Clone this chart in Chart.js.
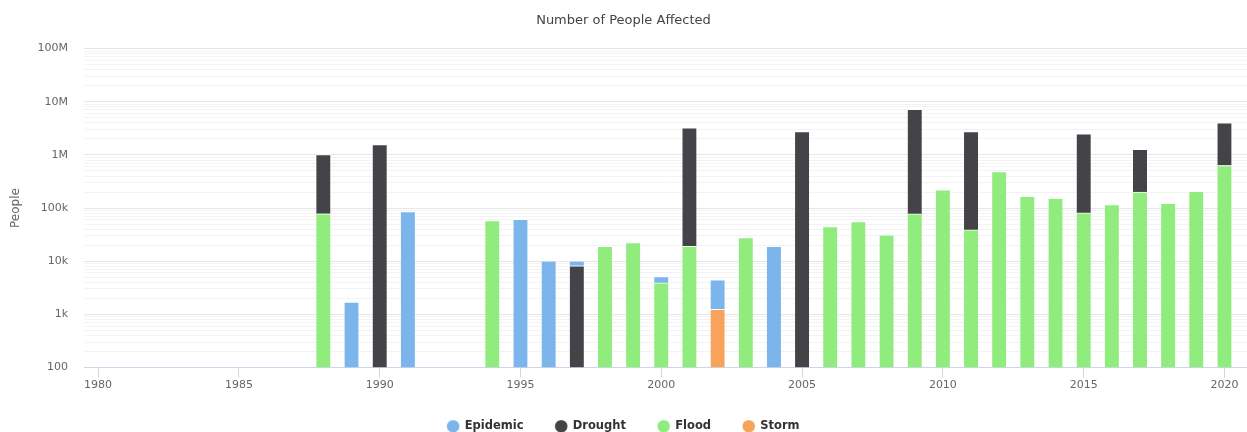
<!DOCTYPE html>
<html>
<head>
<meta charset="utf-8">
<title>Number of People Affected</title>
<script src="https://cdn.jsdelivr.net/npm/chart.js@4/dist/chart.umd.min.js"></script>
<style>
  html, body { margin: 0; padding: 0; background: #ffffff; }
  #wrap { width: 1247px; height: 432px; }
</style>
</head>
<body>
<div id="wrap"><canvas id="chart" width="1247" height="432"></canvas></div>
<script>
// Years shown on the x axis (one slot per year)
const years = [
  1980, 1981, 1982, 1983, 1984, 1985, 1986, 1987, 1988, 1989,
  1990, 1991, 1992, 1993, 1994, 1995, 1996, 1997, 1998, 1999,
  2000, 2001, 2002, 2003, 2004, 2005, 2006, 2007, 2008, 2009,
  2010, 2011, 2012, 2013, 2014, 2015, 2016, 2017, 2018, 2019,
  2020
];

// People affected per year, by disaster type (null = no event)
const epidemic = [
  null, null, null, null, null, null, null, null, null, 1700,
  null, 86000, null, null, null, 61500, 10200, 2000, null, null,
  1250, null, 3200, null, 19000, null, null, null, null, null,
  null, null, null, null, null, null, null, null, null, null,
  null
];
const drought = [
  null, null, null, null, null, null, null, null, 940000, null,
  1570000, null, null, null, null, null, null, 8200, null, null,
  null, 3220000, null, null, null, 2760000, null, null, null, 7100000,
  null, 2720000, null, null, null, 2420000, null, 1070000, null, null,
  3400000
];
const flood = [
  null, null, null, null, null, null, null, null, 78000, null,
  null, null, null, null, 58000, null, null, null, 19000, 22400,
  3900, 19000, null, 27800, null, null, 44800, 55600, 31300, 77600,
  220000, 38800, 488000, 167000, 153000, 81000, 116000, 199000, 123000, 207000,
  632000
];
const storm = [
  null, null, null, null, null, null, null, null, null, null,
  null, null, null, null, null, null, null, null, null, null,
  null, null, 1240, null, null, null, null, null, null, null,
  null, null, null, null, null, null, null, null, null, null,
  null
];

// Axis ticks
const xTickYears = [1980, 1985, 1990, 1995, 2000, 2005, 2010, 2015, 2020];
const yTickValues = [100, 1000, 10000, 100000, 1000000, 10000000, 100000000];
const yTickLabels = ['100', '1k', '10k', '100k', '1M', '10M', '100M'];

function points(values) {
  const out = [];
  values.forEach((v, i) => { if (v !== null) out.push({ x: years[i], y: v }); });
  return out;
}

// Decade lines plus the 2..9 lines between them
function logGridValues() {
  const vals = [];
  for (let d = 0; d < yTickValues.length - 1; d++) {
    for (let m = 1; m <= 9; m++) vals.push(m * yTickValues[d]);
  }
  vals.push(yTickValues[yTickValues.length - 1]);
  return vals;
}

const barStyle = {
  barThickness: 14,
  borderColor: '#ffffff',
  borderWidth: { top: 1, left: 0, right: 0, bottom: 0 },
  borderSkipped: false
};

const FONT = "'DejaVu Sans', 'Liberation Sans', sans-serif";

new Chart(document.getElementById('chart'), {
  type: 'bar',
  data: {
    // stacked bottom to top: Storm, Flood, Drought, Epidemic
    datasets: [
      Object.assign({ label: 'Storm', data: points(storm), backgroundColor: '#f7a35c' }, barStyle),
      Object.assign({ label: 'Flood', data: points(flood), backgroundColor: '#90ed7d' }, barStyle),
      Object.assign({ label: 'Drought', data: points(drought), backgroundColor: '#434348' }, barStyle),
      Object.assign({ label: 'Epidemic', data: points(epidemic), backgroundColor: '#7cb5ec' }, barStyle)
    ]
  },
  options: {
    responsive: false,
    devicePixelRatio: 1,
    animation: false,
    layout: { padding: { left: 0, right: 0, top: 0, bottom: -10 } },
    plugins: {
      title: {
        display: true,
        text: 'Number of People Affected',
        color: '#444444',
        font: { family: FONT, size: 13, weight: 'normal' },
        padding: { top: 13, bottom: 20 }
      },
      legend: {
        position: 'bottom',
        reverse: true,
        labels: {
          usePointStyle: true,
          pointStyle: 'circle',
          boxWidth: 12,
          boxHeight: 9,
          padding: 32,
          color: '#333333',
          font: { family: FONT, size: 11.5, weight: 'bold' }
        }
      },
      tooltip: { enabled: false }
    },
    scales: {
      x: {
        type: 'linear',
        stacked: true,
        offset: false,
        min: 1979.5,
        max: 2020.8,
        afterBuildTicks: (scale) => { scale.ticks = xTickYears.map(v => ({ value: v })); },
        afterFit: (scale) => { scale.height = 21; },
        ticks: {
          autoSkip: false,
          maxRotation: 0,
          padding: 1,
          color: '#666666',
          font: { family: FONT, size: 11 },
          callback: (v) => String(v)
        },
        grid: {
          offset: false,
          drawOnChartArea: false,
          drawTicks: true,
          tickLength: 10,
          tickColor: '#ccd6eb',
          tickWidth: 1
        },
        border: { display: true, color: '#ccd6eb', width: 1 }
      },
      y: {
        type: 'logarithmic',
        stacked: true,
        min: yTickValues[0],
        max: yTickValues[yTickValues.length - 1],
        afterBuildTicks: (scale) => { scale.ticks = logGridValues().map(v => ({ value: v })); },
        afterFit: (scale) => { scale.width = 84; },
        title: {
          display: true,
          text: 'People',
          color: '#666666',
          font: { family: FONT, size: 12 },
          padding: { top: 9, bottom: 0 }
        },
        ticks: {
          autoSkip: false,
          padding: 16,
          color: '#666666',
          font: { family: FONT, size: 11 },
          callback: (v) => {
            const i = yTickValues.indexOf(v);
            return i >= 0 ? yTickLabels[i] : '';
          }
        },
        grid: {
          drawTicks: false,
          lineWidth: 1,
          color: (ctx) => (yTickValues.indexOf(ctx.tick.value) >= 0 ? '#e6e6e6' : '#f3f3f3')
        },
        border: { display: false }
      }
    }
  }
});
</script>
</body>
</html>
